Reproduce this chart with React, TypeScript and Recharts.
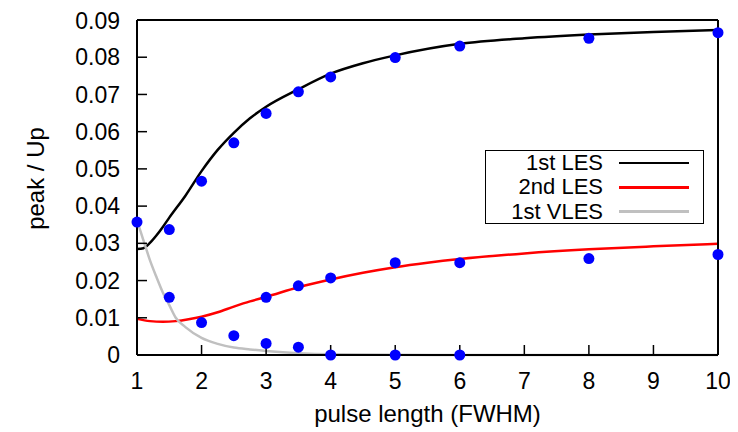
import {
  ComposedChart,
  Line,
  Scatter,
  XAxis,
  YAxis,
  Label,
  Legend,
} from "recharts";

const xTicks = [1, 2, 3, 4, 5, 6, 7, 8, 9, 10];
const yTicks = [0, 0.01, 0.02, 0.03, 0.04, 0.05, 0.06, 0.07, 0.08, 0.09];

// fitted curves
const lesX = [1, 1.1, 1.2, 1.3, 1.4, 1.5, 1.75, 2, 2.25, 2.5, 2.75, 3, 3.5, 4, 4.5, 5, 6, 7, 8, 9, 10];
const lesY = [0.0285, 0.0287, 0.0301, 0.0321, 0.0344, 0.0369, 0.0428, 0.0494, 0.0551, 0.0597, 0.0636, 0.0667, 0.0714, 0.0756, 0.0784, 0.0805, 0.0836, 0.0851, 0.0861, 0.0868, 0.0873];

const les2X = [1, 1.2, 1.4, 1.6, 1.8, 2, 2.25, 2.5, 2.75, 3, 3.5, 4, 4.5, 5, 5.5, 6, 7, 8, 9, 10];
const les2Y = [0.0097, 0.0091, 0.0089, 0.0091, 0.0096, 0.0103, 0.0115, 0.013, 0.0144, 0.0156, 0.0182, 0.0203, 0.0221, 0.0236, 0.0248, 0.0258, 0.0273, 0.0284, 0.0292, 0.0299];

const vlesX = [1, 1.05, 1.1, 1.2, 1.3, 1.4, 1.5, 1.6, 1.75, 2, 2.25, 2.5, 2.75, 3, 3.5, 4, 5, 6, 8, 10];
const vlesY = [0.036, 0.0335, 0.0308, 0.0255, 0.021, 0.0168, 0.0134, 0.01, 0.0075, 0.0046, 0.003, 0.002, 0.0015, 0.0011, 0.0005, 0.0002, 0.00005, 0, 0, 0];

// measured points
const lesDotX = [1, 1.5, 2, 2.5, 3, 3.5, 4, 5, 6, 8, 10];
const lesDotY = [0.0357, 0.0337, 0.0467, 0.057, 0.0649, 0.0707, 0.0747, 0.0799, 0.083, 0.0851, 0.0866];
const les2DotX = [3, 3.5, 4, 5, 6, 8, 10];
const les2DotY = [0.0155, 0.0186, 0.0207, 0.0248, 0.0248, 0.0259, 0.027];
const vlesDotX = [1.5, 2, 2.5, 3, 3.5, 4, 5, 6];
const vlesDotY = [0.0155, 0.0087, 0.0052, 0.0031, 0.0021, 0, 0, 0];

const series = [
  { name: "1st LES", color: "#000000", xs: lesX, ys: lesY },
  { name: "2nd LES", color: "#ff0000", xs: les2X, ys: les2Y },
  { name: "1st VLES", color: "#c0c0c0", xs: vlesX, ys: vlesY },
];

const toPoints = (xs: number[], ys: number[]) => xs.map((x, i) => ({ x, y: ys[i] }));

const dots = [
  ...toPoints(lesDotX, lesDotY),
  ...toPoints(les2DotX, les2DotY),
  ...toPoints(vlesDotX, vlesDotY),
];

const font = '"Liberation Sans", Arial, sans-serif';
const tickStyle = { fill: "#000", fontSize: 23, fontFamily: font };

function LegendBox() {
  return (
    <div
      style={{
        boxSizing: "border-box",
        width: 219,
        height: 74,
        border: "1.5px solid #000",
        background: "#fff",
        fontFamily: font,
        fontSize: 22,
      }}
    >
      {series.map((s) => (
        <div key={s.name} style={{ display: "flex", alignItems: "center", height: 24.3 }}>
          <span style={{ width: 117, textAlign: "right", lineHeight: "24px", whiteSpace: "nowrap" }}>
            {s.name}
          </span>
          <span style={{ width: 70, height: 2.5, marginLeft: 16, background: s.color }} />
        </div>
      ))}
    </div>
  );
}

export default function App() {
  return (
    <ComposedChart
      width={730}
      height={424}
      margin={{ top: 11, right: 19, left: 5, bottom: 10 }}
    >
      <XAxis
        dataKey="x"
        type="number"
        domain={[1, 10]}
        ticks={xTicks}
        height={67}
        tickSize={-10}
        tickMargin={28}
        tick={tickStyle}
        axisLine={{ stroke: "#000", strokeWidth: 2 }}
        tickLine={{ stroke: "#000", strokeWidth: 1.5 }}
      >
        <Label
          value="pulse length (FWHM)"
          position="insideBottom"
          offset={0}
          style={{ fill: "#000", fontSize: 24, fontFamily: font }}
        />
      </XAxis>
      <XAxis
        xAxisId="top"
        orientation="top"
        dataKey="x"
        type="number"
        domain={[1, 10]}
        ticks={xTicks}
        height={1}
        tickSize={-10}
        tick={false}
        axisLine={{ stroke: "#000", strokeWidth: 2 }}
        tickLine={{ stroke: "#000", strokeWidth: 1.5 }}
      />
      <YAxis
        dataKey="y"
        type="number"
        domain={[0, 0.09]}
        ticks={yTicks}
        width={124}
        tickSize={-10}
        tickMargin={27}
        tick={tickStyle}
        tickFormatter={(v: number) => (v === 0 ? "0" : v.toFixed(2))}
        axisLine={{ stroke: "#000", strokeWidth: 2 }}
        tickLine={{ stroke: "#000", strokeWidth: 1.5 }}
      >
        <Label
          value="peak / Up"
          angle={-90}
          position="insideLeft"
          offset={22}
          dy={-9}
          style={{ fill: "#000", fontSize: 24, fontFamily: font, textAnchor: "middle" }}
        />
      </YAxis>
      <YAxis
        yAxisId="right"
        orientation="right"
        dataKey="y"
        type="number"
        domain={[0, 0.09]}
        ticks={yTicks}
        width={1}
        tickSize={-10}
        tick={false}
        axisLine={{ stroke: "#000", strokeWidth: 2 }}
        tickLine={{ stroke: "#000", strokeWidth: 1.5 }}
      />
      {series.map((s) => (
        <Line
          key={s.name}
          name={s.name}
          data={toPoints(s.xs, s.ys)}
          dataKey="y"
          type="monotone"
          stroke={s.color}
          strokeWidth={2.5}
          dot={false}
          activeDot={false}
          isAnimationActive={false}
        />
      ))}
      <Scatter
        data={dots}
        dataKey="y"
        isAnimationActive={false}
        shape={(p: any) => <circle cx={p.cx} cy={p.cy} r={5.5} fill="#0000ff" />}
      />
      <Legend
        layout="horizontal"
        verticalAlign="middle"
        align="center"
        content={() => <LegendBox />}
        wrapperStyle={{ left: 477, top: 142, width: 219, height: 74 }}
      />
    </ComposedChart>
  );
}
